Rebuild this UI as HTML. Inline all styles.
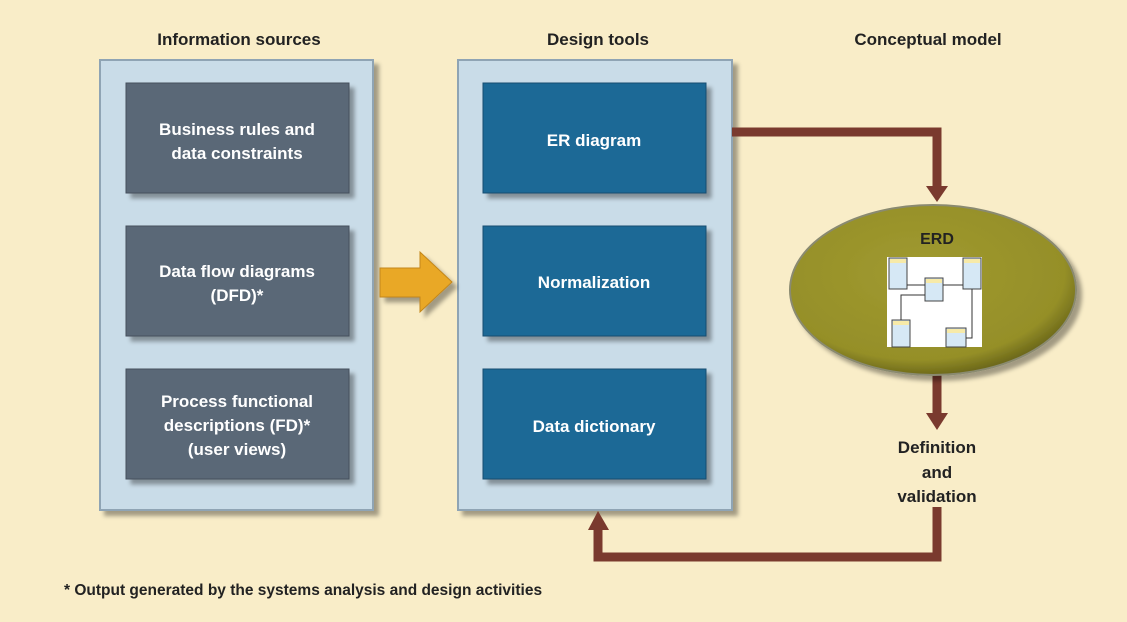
<!DOCTYPE html>
<html><head><style>
body{margin:0;background:#f9edc8;}
svg{display:block;font-family:"Liberation Sans",sans-serif;font-weight:bold;}
</style></head><body>
<svg width="1127" height="622" viewBox="0 0 1127 622">
<defs>
<filter id="sh" x="-10%" y="-10%" width="130%" height="130%"><feDropShadow dx="5" dy="5" stdDeviation="2" flood-color="#000" flood-opacity="0.35"/></filter>
<radialGradient id="eg" cx="45%" cy="40%" r="60%"><stop offset="0" stop-color="#a09a30"/><stop offset="0.85" stop-color="#958f28"/><stop offset="1" stop-color="#6e6a1a"/></radialGradient>
</defs>
<rect width="1127" height="622" fill="#f9edc8"/>
<g font-size="17" fill="#222" text-anchor="middle">
<text x="239" y="45">Information sources</text>
<text x="598" y="45">Design tools</text>
<text x="928" y="45">Conceptual model</text>
</g>
<rect x="100" y="60" width="273" height="450" fill="#c9dce8" stroke="#8fa4b4" stroke-width="2" filter="url(#sh)"/>
<rect x="458" y="60" width="274" height="450" fill="#c9dce8" stroke="#8fa4b4" stroke-width="2" filter="url(#sh)"/>
<g fill="#5a6777" stroke="#444f5c" filter="url(#sh)">
<rect x="126" y="83" width="223" height="110"/>
<rect x="126" y="226" width="223" height="110"/>
<rect x="126" y="369" width="223" height="110"/>
</g>
<g fill="#1b6996" stroke="#144e70" filter="url(#sh)">
<rect x="483" y="83" width="223" height="110"/>
<rect x="483" y="226" width="223" height="110"/>
<rect x="483" y="369" width="223" height="110"/>
</g>
<g font-size="17" fill="#fff" text-anchor="middle">
<text x="237" y="135">Business rules and</text>
<text x="237" y="159">data constraints</text>
<text x="237" y="277">Data flow diagrams</text>
<text x="237" y="301">(DFD)*</text>
<text x="237" y="407">Process functional</text>
<text x="237" y="431">descriptions (FD)*</text>
<text x="237" y="455">(user views)</text>
<text x="594" y="146">ER diagram</text>
<text x="594" y="288">Normalization</text>
<text x="594" y="432">Data dictionary</text>
</g>
<path d="M380 268 H420 V252 L452 282 L420 312 V297 H380 Z" fill="#e9a825" stroke="#c2861a" filter="url(#sh)"/>
<g fill="none" stroke="#7a3a2e" stroke-width="9">
<path d="M732 132 H937 V188"/>
<path d="M937 375 V415"/>
<path d="M937 507 V557 H598 V528"/>
</g>
<g fill="#7a3a2e">
<polygon points="926,186 948,186 937,202"/>
<polygon points="926,413 948,413 937,430"/>
<polygon points="588,530 609,530 598,511"/>
</g>
<ellipse cx="933" cy="290" rx="143" ry="85" fill="url(#eg)" stroke="#8a8a70" stroke-width="2" filter="url(#sh)"/>
<text x="937" y="244" font-size="16" fill="#222" text-anchor="middle">ERD</text>
<g>
<rect x="887" y="257" width="95" height="90" fill="#fff"/>
<g fill="#d6e8f5" stroke="#444">
<rect x="889" y="258" width="18" height="31"/>
<rect x="925" y="278" width="18" height="23"/>
<rect x="963" y="258" width="18" height="31"/>
<rect x="892" y="320" width="18" height="27"/>
<rect x="946" y="328" width="20" height="19"/>
</g>
<g fill="#f7eaa8"><rect x="890" y="259" width="16" height="4"/><rect x="926" y="279" width="16" height="4"/><rect x="964" y="259" width="16" height="4"/><rect x="893" y="321" width="16" height="4"/><rect x="947" y="329" width="18" height="4"/></g>
<path d="M907 285 H925 M963 285 H943 M901 320 V295 H925 M966 338 H972 V289" stroke="#333" fill="none"/>
</g>
<g font-size="17" fill="#222" text-anchor="middle">
<text x="937" y="453">Definition</text>
<text x="937" y="478">and</text>
<text x="937" y="502">validation</text>
</g>
<text x="64" y="595" font-size="15.5" fill="#222">* Output generated by the systems analysis and design activities</text>
</svg>
</body></html>
